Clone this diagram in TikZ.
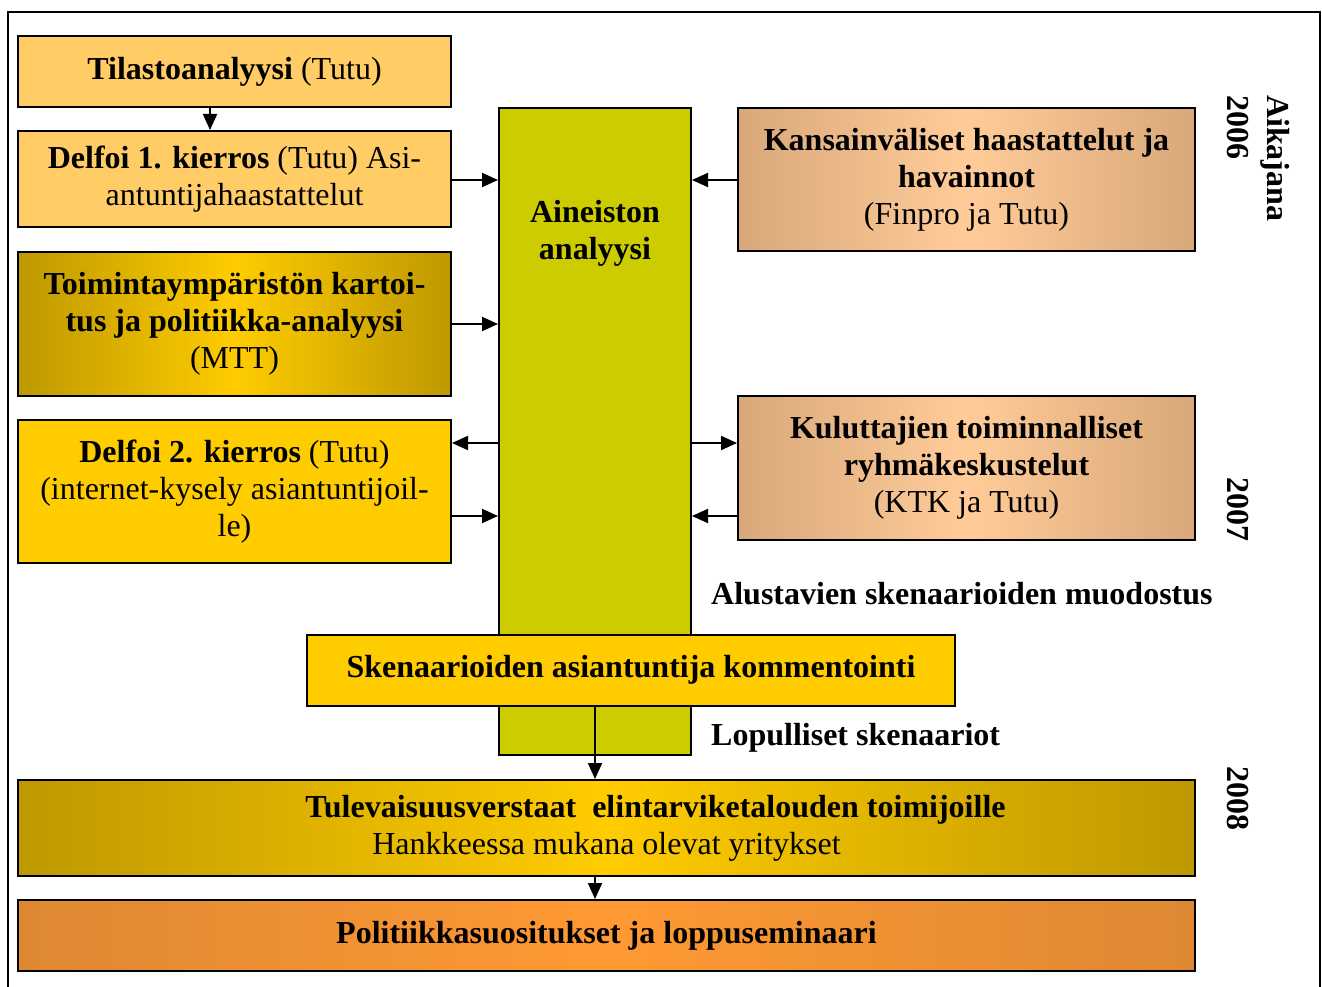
\documentclass[tikz,border=0pt]{standalone}
\usepackage{fontspec}
\setmainfont{Liberation Serif}
\usetikzlibrary{arrows.meta}
\definecolor{lorange}{HTML}{FFCC66}
\definecolor{gold}{HTML}{FFCC00}
\definecolor{olive}{HTML}{BE9800}
\definecolor{aine}{HTML}{CCCC00}
\definecolor{tanedge}{HTML}{D9A87A}
\definecolor{tanmid}{HTML}{FFCC99}
\definecolor{oredge}{HTML}{DD8833}
\definecolor{ormid}{HTML}{FF9933}
\tikzset{
  box/.style={draw=black, line width=2pt, inner sep=0pt, align=center,
    font=\fontsize{32}{37}\selectfont},
  arr/.style={line width=2pt, -{Triangle[length=16pt,width=14pt]}},
  yeargrad/.style={left color=olive, right color=olive, middle color=gold},
  tangrad/.style={left color=tanedge, right color=tanedge, middle color=tanmid},
  orgrad/.style={left color=oredge, right color=oredge, middle color=ormid},
  plain/.style={inner sep=0pt, font=\fontsize{32}{37}\selectfont\bfseries},
}
\begin{document}
\begin{tikzpicture}[x=1pt,y=-1pt]
\useasboundingbox (0,0) rectangle (1322,987);
\fill[white] (0,0) rectangle (1322,987);
\draw[line width=1.5pt] (8,995) -- (8,12) -- (1320,12) -- (1320,995);

\node[box, fill=lorange, minimum width=433pt, minimum height=71pt] (tilasto) at (234.5,71.5)
  {\textbf{Tilastoanalyysi} (Tutu)};
\node[box, fill=lorange, minimum width=433pt, minimum height=96pt, text depth=6pt] (delfoi1) at (234.5,179)
  {\textbf{Delfoi 1. kierros} (Tutu) Asi-\\antuntijahaastattelut};
\node[box, yeargrad, minimum width=433pt, minimum height=144pt] (toim) at (234.5,324)
  {\textbf{Toimintaympäristön kartoi-}\\\textbf{tus ja politiikka-analyysi}\\(MTT)};
\node[box, fill=gold, minimum width=433pt, minimum height=143pt] (delfoi2) at (234.5,491.5)
  {\textbf{Delfoi 2. kierros} (Tutu)\\(internet-kysely asiantuntijoil-\\le)};
\node[box, fill=aine, minimum width=192pt, minimum height=647pt] (aine) at (595,431.5) {};
\node[plain, align=center] (ainetext) at (595,233) {Aineiston\\analyysi};
\node[box, tangrad, minimum width=457pt, minimum height=143pt] (kans) at (966.5,179.5)
  {\textbf{Kansainväliset haastattelut ja}\\\textbf{havainnot}\\(Finpro ja Tutu)};
\node[box, tangrad, minimum width=457pt, minimum height=144pt] (kulu) at (966.5,468)
  {\textbf{Kuluttajien toiminnalliset}\\\textbf{ryhmäkeskustelut}\\(KTK ja Tutu)};
\node[plain, anchor=west] (alust) at (711,594) {Alustavien skenaarioiden muodostus};
\node[box, fill=gold, minimum width=648pt, minimum height=71pt] (sken) at (631,670)
  {\textbf{Skenaarioiden asiantuntija kommentointi}};
\node[plain, anchor=west] (lopu) at (711,738) {Lopulliset skenaariot};
\node[box, yeargrad, minimum width=1177pt, minimum height=96pt] (tule) at (606.5,828)
  {\hspace*{98pt}\textbf{Tulevaisuusverstaat\ \ elintarviketalouden toimijoille}\\Hankkeessa mukana olevat yritykset};
\node[box, orgrad, minimum width=1177pt, minimum height=71pt] (poli) at (606.5,935.5)
  {\textbf{Politiikkasuositukset ja loppuseminaari}};

\node[plain, rotate=-90, anchor=west] (aika) at (1275,95) {Aikajana};
\node[plain, rotate=-90, anchor=west] (y2006) at (1238,95) {2006};
\node[plain, rotate=-90] (y2007) at (1238,509) {2007};
\node[plain, rotate=-90] (y2008) at (1238,798) {2008};

\draw[arr] (tilasto.south -| 210,0) -- (delfoi1.north -| 210,0);
\draw[arr] (delfoi1.east |- 0,180) -- (aine.west |- 0,180);
\draw[arr] (toim.east) -- (toim.east -| aine.west);
\draw[arr] (aine.west |- 0,443) -- (delfoi2.east |- 0,443);
\draw[arr] (delfoi2.east |- 0,516) -- (aine.west |- 0,516);
\draw[arr] (kans.west |- 0,180) -- (aine.east |- 0,180);
\draw[arr] (aine.east |- 0,443) -- (kulu.west |- 0,443);
\draw[arr] (kulu.west |- 0,516) -- (aine.east |- 0,516);
\draw[arr] (sken.south -| 595,0) -- (tule.north -| 595,0);
\draw[arr] (tule.south -| 595,0) -- (poli.north -| 595,0);
\end{tikzpicture}
\end{document}
